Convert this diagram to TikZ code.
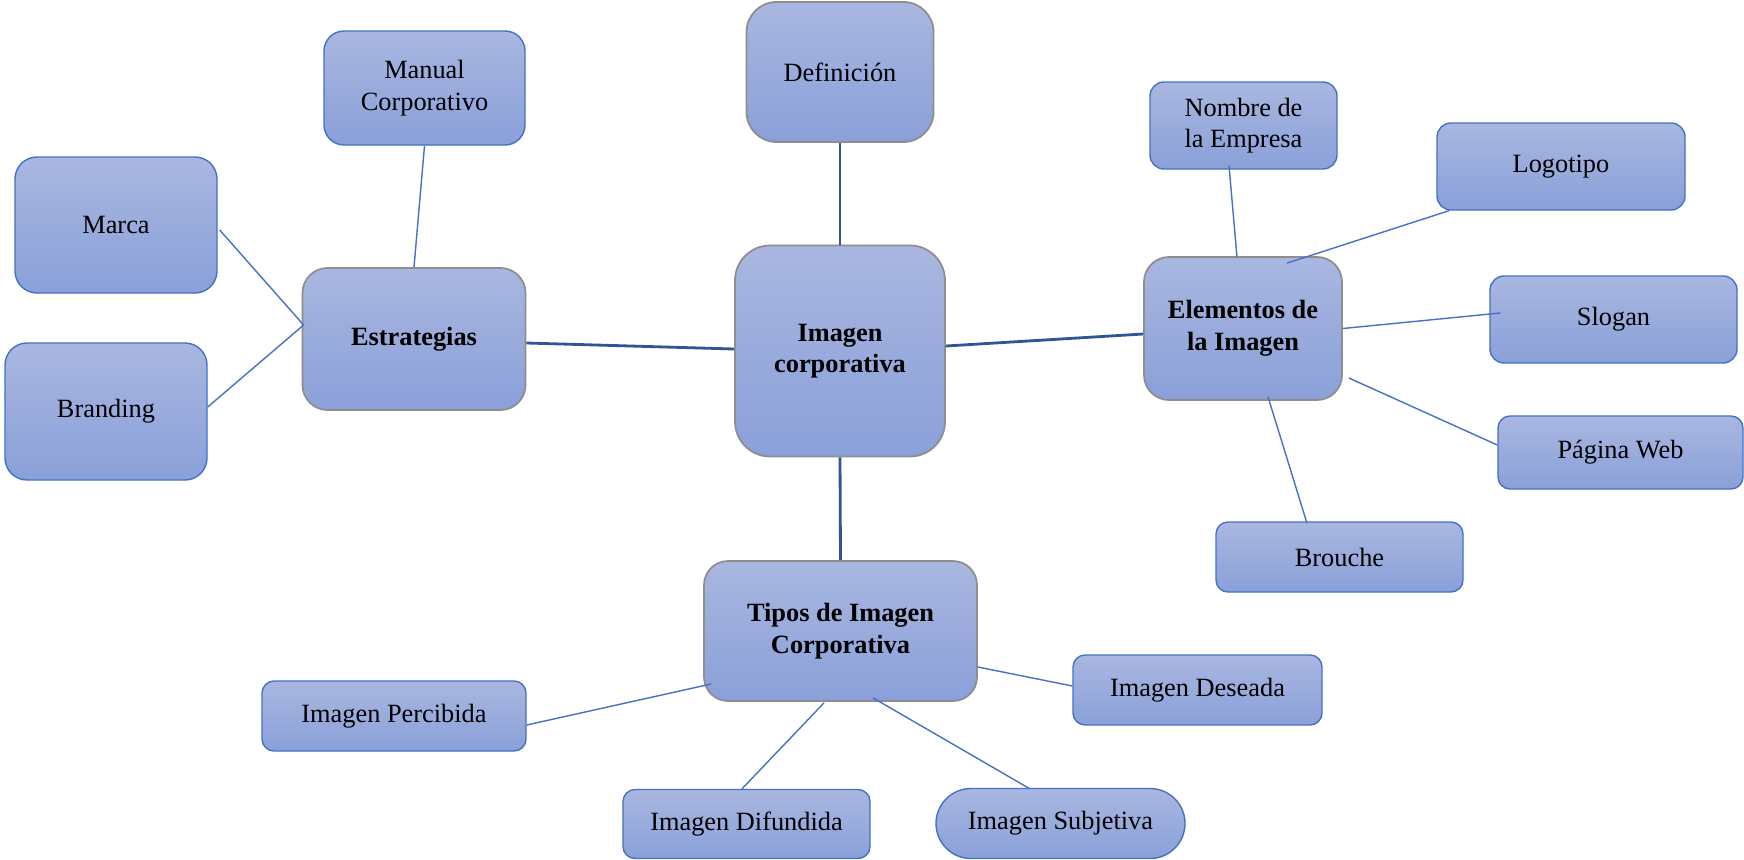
\documentclass[tikz,border=0pt]{standalone}
\usepackage{fontspec}
\setmainfont{Liberation Serif}
\usetikzlibrary{calc}
\definecolor{boxtop}{HTML}{A9B7E0}
\definecolor{boxbot}{HTML}{8AA0D9}
\definecolor{leafedge}{HTML}{4472C4}
\definecolor{mainedge}{HTML}{8E8E8E}
\definecolor{mainlink}{HTML}{2F5597}
\begin{document}
\begin{tikzpicture}[x=0.02cm,y=-0.02cm,
    boxsize/.style n args={3}{minimum width=#1*0.02cm,minimum height=#2*0.02cm,rounded corners=#3*0.02cm},
    box/.style={top color=boxtop,bottom color=boxbot,align=center,inner sep=2pt,
        font=\fontsize{15}{18}\selectfont},
    mainbox/.style={box,draw=mainedge,line width=1pt,font=\fontsize{15}{18}\selectfont\bfseries},
    leafbox/.style={box,draw=leafedge,line width=0.8pt},
    mainlink/.style={draw=mainlink,line width=1.6pt},
    leaflink/.style={draw=leafedge,line width=0.8pt}]
    \useasboundingbox(0,0)rectangle(1744,859);

    % centre and its four branches
    \node[mainbox,boxsize={210}{211}{35}](img)at(840,351){Imagen\\corporativa};
    \node[mainbox,boxsize={187}{140}{30},font=\fontsize{15}{18}\selectfont](def)at(840,72){Definición};
    \node[mainbox,boxsize={223}{142}{25}](est)at(414,339){Estrategias};
    \node[mainbox,boxsize={198}{143}{25}](ele)at(1243,328.5){Elementos de\\la Imagen};
    \node[mainbox,boxsize={273}{140}{24}](tip)at(840.5,631){Tipos de Imagen\\Corporativa};

    % Estrategias
    \node[leafbox,boxsize={201}{114}{20}](man)at(424.5,88){Manual\\Corporativo};
    \node[leafbox,boxsize={202}{136}{22}](mar)at(116,225){Marca};
    \node[leafbox,boxsize={202}{137}{22}](bra)at(106,411.5){Branding};

    % Elementos de la Imagen
    \node[leafbox,boxsize={187}{87}{14}](nom)at(1243.5,125.5){Nombre de\\la Empresa};
    \node[leafbox,boxsize={248}{87}{14}](log)at(1561,166.5){Logotipo};
    \node[leafbox,boxsize={247}{87}{14}](slo)at(1613.5,319.5){Slogan};
    \node[leafbox,boxsize={245}{73}{12}](pag)at(1620.5,452.5){Página Web};
    \node[leafbox,boxsize={247}{70}{12}](bro)at(1339.5,557){Brouche};

    % Tipos de Imagen Corporativa
    \node[leafbox,boxsize={249}{70}{12}](des)at(1197.5,690){Imagen Deseada};
    \node[leafbox,boxsize={264}{70}{12}](per)at(394,716){Imagen Percibida};
    \node[leafbox,boxsize={247}{69}{12}](dif)at(746.5,824){Imagen Difundida};
    \node[leafbox,boxsize={249}{70}{35}](sub)at(1060.5,823.5){Imagen Subjetiva};

    \draw[mainlink](def.south)--(img.north);
    \draw[mainlink](img.south)--(tip.north);
    \draw[mainlink]($(est.east)+(0,4)$)--($(img.west)+(0,-2)$);
    \draw[mainlink]($(img.east)+(0,-5)$)--($(ele.west)+(0,5.5)$);

    \draw[leaflink](man.south)--(est.north);
    \draw[leaflink]($(mar.east)+(2,5)$)--($(est.west)+(2,-14)$);
    \draw[leaflink]($(bra.east)+(0,-4.5)$)--($(est.west)+(2,-14)$);

    \draw[leaflink]($(nom.south)+(-14.5,-4)$)--($(ele.north)+(-6,1)$);
    \draw[leaflink]($(log.south)+(-112,0)$)--($(ele.north)+(44,7)$);
    \draw[leaflink]($(slo.west)+(11,-6.5)$)--(ele.east);
    \draw[leaflink](pag.west|-{(0,445)})--($(ele.east)+(6,49.5)$);
    \draw[leaflink]($(bro.north)+(-32.5,2)$)--($(ele.south)+(25,-4)$);

    \draw[leaflink]($(des.west)+(0,-4)$)--($(tip.east)+(0,36)$);
    \draw[leaflink]($(per.east)+(0,9)$)--($(tip.west)+(8,53)$);
    \draw[leaflink]($(dif.north)+(-4.5,0)$)--($(tip.south)+(-16.5,1)$);
    \draw[leaflink]($(sub.north)+(-31.5,0.5)$)--($(tip.south)+(32.5,-4)$);
\end{tikzpicture}
\end{document}
